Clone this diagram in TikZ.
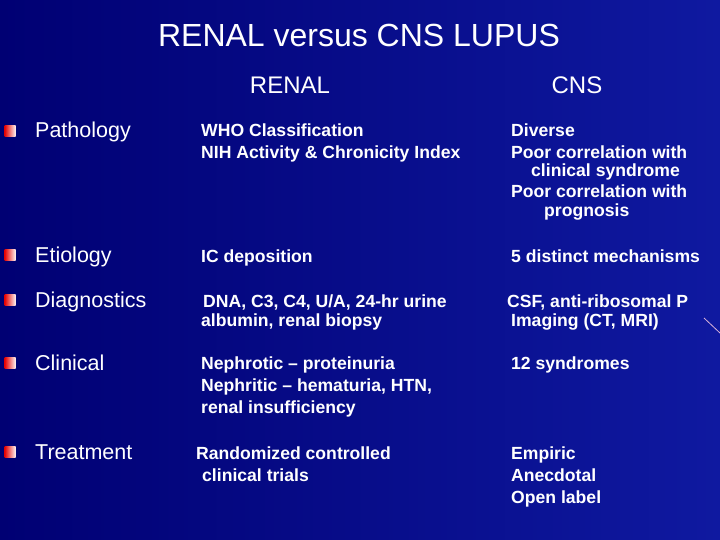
\documentclass[tikz,border=0pt]{standalone}
\usepackage{fontspec}
\setmainfont{Liberation Sans}
\begin{document}
\begin{tikzpicture}[x=1pt,y=-1pt,
  t/.style={anchor=base west,inner sep=0pt,text=white,font=\fontsize{17.6}{20}\selectfont\bfseries},
  lab/.style={anchor=base west,inner sep=0pt,text=white,font=\fontsize{21.5}{24}\selectfont},
  hd/.style={anchor=base,inner sep=0pt,text=white,font=\fontsize{24}{28}\selectfont},
  bul/.style={minimum size=11pt,inner sep=0pt,draw=none,left color=red!90!black,right color=white!80!pink}]
\definecolor{bgA}{RGB}{0,0,115}
\definecolor{bgB}{RGB}{15,25,160}
\shade[left color=bgA,right color=bgB] (0,0) rectangle (720,540);
\useasboundingbox (0,0) rectangle (720,540);
\draw[white!70!violet,line width=0.8pt] (704,318) -- (720,333);
\node[hd,font=\fontsize{32}{36}\selectfont] (title) at (359,47) {RENAL versus CNS LUPUS};
\node[hd] (hr) at (290,94) {RENAL};
\node[hd] (hc) at (577,94) {CNS};
\foreach \y/\n/\s in {138/b1/Pathology,262/b2/Etiology,307/b3/Diagnostics,370/b4/Clinical,459/b5/Treatment}{
  \node[bul] (\n) at (10,\y-7) {};
  \node[lab] (l\n) at (35,\y) {\s};
}
\node[t] (r1a) at (201,137) {WHO Classification};
\node[t] (r1b) at (201,159) {NIH Activity \& Chronicity Index};
\node[t] (c1a) at (511,137) {Diverse};
\node[t] (c1b) at (511,159) {Poor correlation with};
\node[t] (c1c) at (531,177) {clinical syndrome};
\node[t] (c1d) at (511,198) {Poor correlation with};
\node[t] (c1e) at (544,216) {prognosis};
\node[t] (r2) at (201,262) {IC deposition};
\node[t] (c2) at (511,262) {5 distinct mechanisms};
\node[t] (r3a) at (203,307) {DNA, C3, C4, U/A, 24-hr urine};
\node[t] (r3b) at (201,326) {albumin, renal biopsy};
\node[t] (c3a) at (507,307) {CSF, anti-ribosomal P};
\node[t] (c3b) at (511,326) {Imaging (CT, MRI)};
\node[t] (r4a) at (201,369) {Nephrotic -- proteinuria};
\node[t] (r4b) at (201,391) {Nephritic -- hematuria, HTN,};
\node[t] (r4c) at (201,413) {renal insufficiency};
\node[t] (c4) at (511,369) {12 syndromes};
\node[t] (r5a) at (196,459) {Randomized controlled};
\node[t] (r5b) at (202,481) {clinical trials};
\node[t] (c5a) at (511,459) {Empiric};
\node[t] (c5b) at (511,481) {Anecdotal};
\node[t] (c5c) at (511,503) {Open label};
\end{tikzpicture}
\end{document}
